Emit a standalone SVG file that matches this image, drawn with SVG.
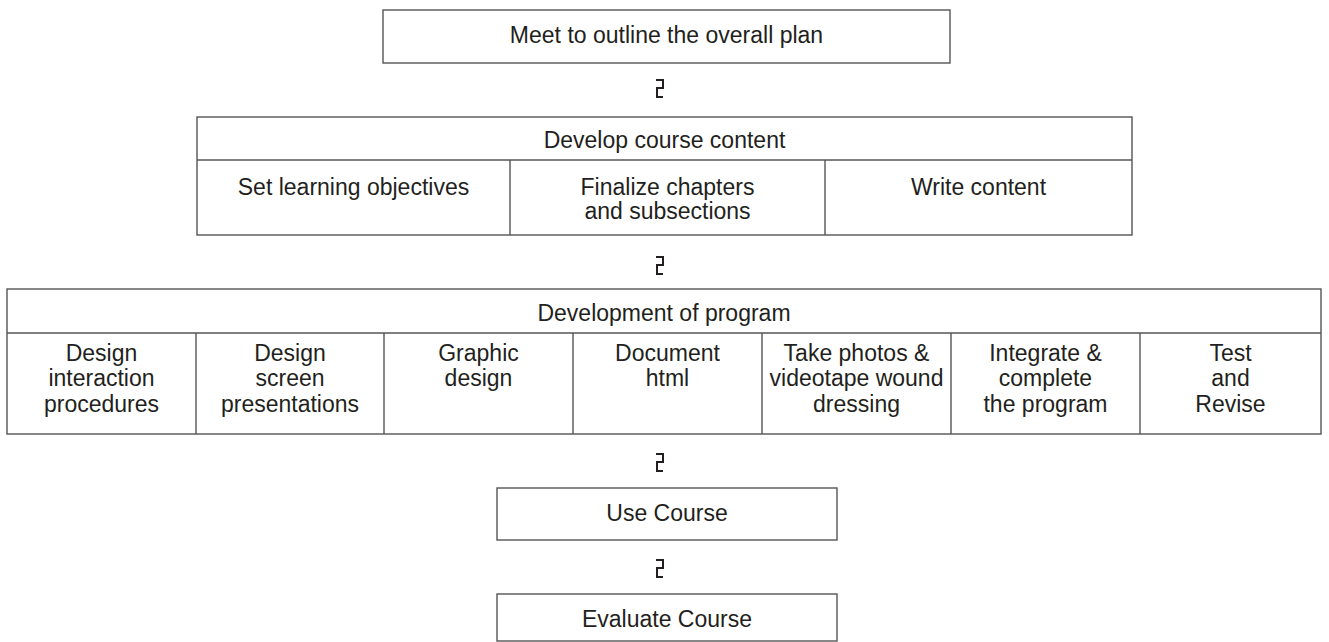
<svg xmlns="http://www.w3.org/2000/svg" width="1329" height="642" viewBox="0 0 1329 642">
<style>
.box{fill:#fff;stroke:#555;stroke-width:1.4}
.ln{stroke:#555;stroke-width:1.4;fill:none}
text{font-family:"Liberation Sans",Arial,sans-serif;font-size:23px;fill:#231f20;text-anchor:middle}
.arr{fill:none;stroke:#231f20;stroke-width:2}
</style>
<rect width="1329" height="642" fill="#fff"/>
<g id="connectors">
<path class="arr" d="M656 80 H663 V88 H657 V97 H663"/>
<path class="arr" d="M656 257 H663 V265 H657 V274 H663"/>
<path class="arr" d="M656 454 H663 V462 H657 V471 H663"/>
<path class="arr" d="M656 560 H663 V568 H657 V577 H663"/>
</g>
<g id="meet">
<rect class="box" x="383" y="10" width="567" height="53"/>
<text x="666.5" y="43">Meet to outline the overall plan</text>
</g>
<g id="develop-content">
<rect class="box" x="197" y="117" width="935" height="118"/>
<line class="ln" x1="197" y1="160" x2="1132" y2="160"/>
<line class="ln" x1="510" y1="160" x2="510" y2="235"/>
<line class="ln" x1="825" y1="160" x2="825" y2="235"/>
<text x="664.5" y="148">Develop course content</text>
<text x="353.5" y="195">Set learning objectives</text>
<text x="667.5" y="195">Finalize chapters</text>
<text x="667.5" y="219">and subsections</text>
<text x="978.5" y="195">Write content</text>
</g>
<g id="development-program">
<rect class="box" x="7" y="289" width="1314" height="145"/>
<line class="ln" x1="7" y1="333" x2="1321" y2="333"/>
<line class="ln" x1="196" y1="333" x2="196" y2="434"/>
<line class="ln" x1="384" y1="333" x2="384" y2="434"/>
<line class="ln" x1="573" y1="333" x2="573" y2="434"/>
<line class="ln" x1="762" y1="333" x2="762" y2="434"/>
<line class="ln" x1="951" y1="333" x2="951" y2="434"/>
<line class="ln" x1="1140" y1="333" x2="1140" y2="434"/>
<text x="664" y="321">Development of program</text>
<text x="101.5" y="361">Design</text>
<text x="101.5" y="386">interaction</text>
<text x="101.5" y="412">procedures</text>
<text x="290" y="361">Design</text>
<text x="290" y="386">screen</text>
<text x="290" y="412">presentations</text>
<text x="478.5" y="361">Graphic</text>
<text x="478.5" y="386">design</text>
<text x="667.5" y="361">Document</text>
<text x="667.5" y="386">html</text>
<text x="856.5" y="361">Take photos &amp;</text>
<text x="856.5" y="386">videotape wound</text>
<text x="856.5" y="412">dressing</text>
<text x="1045.5" y="361">Integrate &amp;</text>
<text x="1045.5" y="386">complete</text>
<text x="1045.5" y="412">the program</text>
<text x="1230.5" y="361">Test</text>
<text x="1230.5" y="386">and</text>
<text x="1230.5" y="412">Revise</text>
</g>
<g id="use-course">
<rect class="box" x="497" y="488" width="340" height="52"/>
<text x="667" y="521">Use Course</text>
</g>
<g id="evaluate-course">
<rect class="box" x="497" y="594" width="340" height="47"/>
<text x="667" y="627">Evaluate Course</text>
</g>
</svg>
